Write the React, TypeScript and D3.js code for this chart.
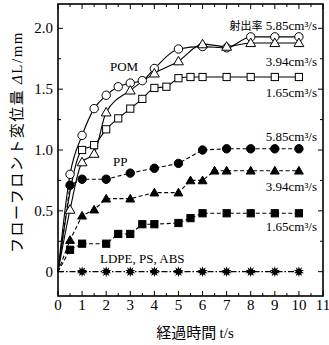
import React from "react";
import * as d3 from "d3";

const pomT585 = [0, 0.5, 1, 1.5, 2, 2.5, 3, 3.5, 4, 5, 6, 7, 8, 9, 10];
const pomV585 = [0, 0.8, 1.12, 1.34, 1.45, 1.52, 1.55, 1.57, 1.67, 1.83, 1.85, 1.84, 1.93, 1.93, 1.93];
const pomT394 = [0, 0.5, 1, 1.5, 2, 3, 4, 5, 6, 7, 8, 9, 10];
const pomV394 = [0, 0.51, 0.9, 0.97, 1.31, 1.49, 1.63, 1.73, 1.87, 1.85, 1.88, 1.88, 1.88];
const pomT165 = [0, 1, 1.5, 2, 2.5, 3, 3.5, 4, 4.5, 5, 5.5, 6, 7, 8, 9, 10];
const pomV165 = [0, 1.0, 1.04, 1.17, 1.26, 1.34, 1.42, 1.51, 1.52, 1.59, 1.6, 1.6, 1.6, 1.6, 1.6, 1.6];
const ppT585 = [0, 0.5, 1, 2, 3, 4, 5, 6, 7, 8, 9, 10];
const ppV585 = [0, 0.71, 0.76, 0.76, 0.81, 0.85, 0.89, 1.0, 1.01, 1.01, 1.01, 1.01];
const ppT394 = [0, 0.5, 1, 1.5, 2, 3, 4, 5, 5.5, 6, 6.5, 7, 8, 9, 10];
const ppV394 = [0, 0.26, 0.46, 0.51, 0.6, 0.6, 0.65, 0.65, 0.75, 0.75, 0.83, 0.83, 0.83, 0.83, 0.83];
const ppT165 = [0, 0.5, 1, 2, 2.5, 3, 3.5, 4, 5, 5.5, 6, 7, 8, 9, 10];
const ppV165 = [0, 0.18, 0.23, 0.23, 0.31, 0.31, 0.39, 0.39, 0.4, 0.44, 0.48, 0.48, 0.48, 0.48, 0.48];
const ldpeT = [0, 1, 2, 3, 4, 5, 6, 7, 8, 9, 10];
const ldpeV = [0, 0, 0, 0, 0, 0, 0, 0, 0, 0, 0];

const xTicks = [0, 1, 2, 3, 4, 5, 6, 7, 8, 9, 10, 11];
const yTicks = [0, 0.5, 1.0, 1.5, 2.0];
const yTickLabels = ["0", "0.5", "1.0", "1.5", "2.0"];

const W = 329, H = 345;
const L = 58, R = 323, T = 4, B = 296;

const x = d3.scaleLinear().domain([0, 11]).range([L, R]);
const y = d3.scaleLinear().domain([-0.2, 2.2]).range([B, T]);

type Series = {
  t: number[]; v: number[]; marker: string; filled: boolean; dash?: string; smooth: boolean;
};

const series: Series[] = [
  { t: pomT585, v: pomV585, marker: "circle", filled: false, smooth: true },
  { t: pomT394, v: pomV394, marker: "triangle", filled: false, smooth: true },
  { t: pomT165, v: pomV165, marker: "square", filled: false, smooth: true },
  { t: ppT585, v: ppV585, marker: "circle", filled: true, dash: "4,2.5", smooth: false },
  { t: ppT394, v: ppV394, marker: "triangle", filled: true, dash: "4,2.5", smooth: false },
  { t: ppT165, v: ppV165, marker: "square", filled: true, dash: "4,2.5", smooth: false },
  { t: ldpeT, v: ldpeV, marker: "star", filled: true, dash: "6,2,1.5,2", smooth: false },
];

function Marker({ kind, filled, cx, cy }: { kind: string; filled: boolean; cx: number; cy: number }) {
  const fill = filled ? "#000" : "#fff";
  if (kind === "circle") return <circle cx={cx} cy={cy} r={4.2} fill={fill} stroke="#000" strokeWidth={1} />;
  if (kind === "square") return <rect x={cx - 3.6} y={cy - 3.6} width={7.2} height={7.2} fill={fill} stroke="#000" strokeWidth={1} />;
  if (kind === "triangle") {
    const p = d3.symbol().type(d3.symbolTriangle).size(filled ? 34 : 42)();
    return <path d={p || ""} transform={`translate(${cx},${cy + 0.8})`} fill={fill} stroke="#000" strokeWidth={1} />;
  }
  const s = d3.symbol().type(d3.symbolStar).size(32)();
  return (
    <g transform={`translate(${cx},${cy})`}>
      <path d={s || ""} fill="#000" />
      <path d={s || ""} fill="#000" transform="rotate(36)" />
    </g>
  );
}

export default function App() {
  const serif = "Liberation Serif";
  const cjk = "Noto Sans CJK JP";
  const minorX = d3.range(0, 11.01, 0.5);
  const minorY = d3.range(-0.0, 2.21, 0.25);
  return (
    <svg width={W} height={H} style={{ position: "absolute", left: 0, top: 0, background: "#fff" }}>
      {minorX.map((t, i) => {
        const major = Math.abs(t - Math.round(t)) < 1e-6;
        const len = major ? 5 : 3;
        return (
          <g key={"xt" + i}>
            <line x1={x(t)} x2={x(t)} y1={B} y2={B - len} stroke="#000" strokeWidth={1} />
            <line x1={x(t)} x2={x(t)} y1={T} y2={T + len} stroke="#000" strokeWidth={1} />
          </g>
        );
      })}
      {minorY.map((v, i) => {
        const major = Math.abs(v * 2 - Math.round(v * 2)) < 1e-6;
        const len = major ? 5 : 3;
        return (
          <g key={"yt" + i}>
            <line x1={L} x2={L + len} y1={y(v)} y2={y(v)} stroke="#000" strokeWidth={1} />
            <line x1={R} x2={R - len} y1={y(v)} y2={y(v)} stroke="#000" strokeWidth={1} />
          </g>
        );
      })}
      {series.map((s, i) => {
        const pts: [number, number][] = s.t.map((t, j) => [x(t), y(s.v[j])]);
        const gen = d3.line().curve(s.smooth ? d3.curveMonotoneX : d3.curveLinear);
        return (
          <path key={"l" + i} d={gen(pts) || ""} fill="none" stroke="#000"
            strokeWidth={1.1} strokeDasharray={s.dash} />
        );
      })}
      {series.map((s, i) =>
        s.t.map((t, j) =>
          t === 0 ? null : (
            <Marker key={`m${i}-${j}`} kind={s.marker} filled={s.filled} cx={x(t)} cy={y(s.v[j])} />
          )
        )
      )}
      <rect x={L} y={T} width={R - L} height={B - T} fill="none" stroke="#000" strokeWidth={1.6} />
      {xTicks.map((t) => (
        <text key={"xl" + t} x={x(t)} y={310} fontFamily={serif} fontSize={15} textAnchor="middle">{t}</text>
      ))}
      {yTicks.map((v, i) => (
        <text key={"yl" + i} x={53} y={y(v) + 5} fontFamily={serif} fontSize={15} textAnchor="end">{yTickLabels[i]}</text>
      ))}
      <text x={317} y={30} fontFamily={serif} fontSize={13} textAnchor="end">
        <tspan fontFamily={cjk} fontSize={11}>射出率</tspan> 5.85cm³/s
      </text>
      <text x={317} y={66} fontFamily={serif} fontSize={13} textAnchor="end">3.94cm³/s</text>
      <text x={317} y={97} fontFamily={serif} fontSize={13} textAnchor="end">1.65cm³/s</text>
      <text x={317} y={141} fontFamily={serif} fontSize={13} textAnchor="end">5.85cm³/s</text>
      <text x={317} y={191} fontFamily={serif} fontSize={13} textAnchor="end">3.94cm³/s</text>
      <text x={317} y={231} fontFamily={serif} fontSize={13} textAnchor="end">1.65cm³/s</text>
      <text x={110} y={71} fontFamily={serif} fontSize={13}>POM</text>
      <text x={113} y={166} fontFamily={serif} fontSize={13}>PP</text>
      <text x={100} y={263} fontFamily={serif} fontSize={13}>LDPE, PS, ABS</text>
      <text x={195} y={338} fontFamily={cjk} fontSize={15} textAnchor="middle">
        経過時間 <tspan fontFamily={serif}>t/s</tspan>
      </text>
      <text transform={`translate(22,142) rotate(-90)`} fontFamily={cjk} fontSize={15} letterSpacing={1.5} textAnchor="middle">
        フローフロント変位量 <tspan fontFamily={serif} fontStyle="italic">Δ</tspan><tspan fontFamily={serif}>L/mm</tspan>
      </text>
    </svg>
  );
}
